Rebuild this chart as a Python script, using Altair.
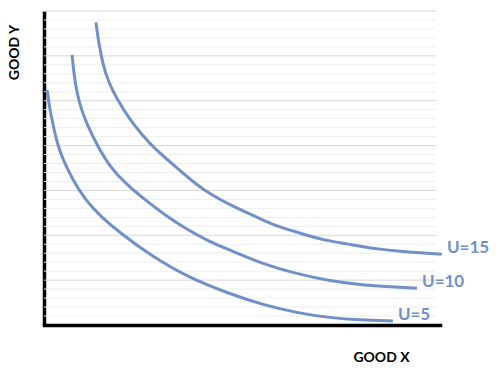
import altair as alt
import pandas as pd

# Indifference curves (x = Good X, y = Good Y)
u5_x = [0.08, 0.15, 0.23, 0.33, 0.48, 0.73, 1.04, 1.44, 1.99, 2.68, 3.61, 4.70, 5.53, 6.39, 7.22, 7.98, 8.81]
u5_y = [5.24, 4.79, 4.46, 4.06, 3.68, 3.23, 2.79, 2.41, 2.01, 1.56, 1.07, 0.69, 0.45, 0.27, 0.16, 0.11, 0.09]

u10_x = [0.71, 0.76, 0.83, 0.93, 1.09, 1.34, 1.67, 2.07, 2.65, 3.23, 3.64, 4.19, 4.70, 5.53, 6.39, 7.22, 8.06, 8.74, 9.42]
u10_y = [6.02, 5.57, 5.19, 4.84, 4.46, 4.01, 3.52, 3.14, 2.72, 2.34, 2.12, 1.85, 1.67, 1.36, 1.14, 0.98, 0.89, 0.85, 0.82]

u15_x = [1.31, 1.39, 1.49, 1.64, 1.82, 2.15, 2.53, 2.75, 3.36, 3.86, 4.27, 4.70, 5.13, 5.53, 5.96, 6.39, 6.79, 7.22, 7.65, 8.06, 8.48, 8.91, 9.49, 10.05]
u15_y = [6.75, 6.24, 5.80, 5.39, 5.08, 4.59, 4.19, 3.97, 3.50, 3.12, 2.88, 2.68, 2.50, 2.34, 2.18, 2.07, 1.96, 1.87, 1.81, 1.74, 1.69, 1.65, 1.61, 1.58]

curve_names = ["U=5", "U=10", "U=15"]
grid_values = [round(i * 0.2, 1) for i in range(1, 36)]
grid_major = [abs(v - round(v)) < 0.01 for v in grid_values]

BLUE = "#7190c8"

rows = []
for name, xs, ys in zip(curve_names, [u5_x, u10_x, u15_x], [u5_y, u10_y, u15_y]):
    for i, (a, b) in enumerate(zip(xs, ys)):
        rows.append({"curve": name, "order": i, "x": a, "y": b})
df = pd.DataFrame(rows)

labels = pd.DataFrame({
    "curve": curve_names,
    "x": [u5_x[-1], u10_x[-1], u15_x[-1]],
    "y": [u5_y[-1], u10_y[-1], u15_y[-1]],
})

grid_df = pd.DataFrame({"y": grid_values, "major": grid_major, "x0": 0.0, "x1": 9.9})

xscale = alt.Scale(domain=[0, 10], nice=False, zero=False)
yscale = alt.Scale(domain=[0, 7], nice=False, zero=False)

x_axis = alt.Axis(title="GOOD X", labels=False, ticks=False, grid=False,
                  domainColor="black", domainWidth=3.5, domainCap="square",
                  titleX=337, titleY=32, titleBaseline="middle",
                  titleFont="Lato", titleFontSize=14, titleFontWeight="bold",
                  titleColor="black")
y_axis = alt.Axis(title="GOOD Y", labels=False, ticks=False, grid=False,
                  domainColor="black", domainWidth=3.5,
                  titleX=-30, titleY=41, titleAngle=-90, titleBaseline="middle",
                  titleAlign="center",
                  titleFont="Lato", titleFontSize=14, titleFontWeight="bold",
                  titleColor="black")

grid = alt.Chart(grid_df).mark_rule(strokeWidth=1).encode(
    x=alt.X("x0:Q", scale=xscale, axis=x_axis),
    x2="x1:Q",
    y=alt.Y("y:Q", scale=yscale, axis=y_axis),
    color=alt.condition("datum.major", alt.value("#d6d6d6"), alt.value("#eeeeee")),
)

lines = alt.Chart(df).mark_line(strokeWidth=3, interpolate="basis", color=BLUE, clip=False).encode(
    x=alt.X("x:Q", scale=xscale, axis=x_axis),
    y=alt.Y("y:Q", scale=yscale, axis=y_axis),
    detail="curve:N", order="order:Q"
)

texts = alt.Chart(labels).mark_text(align="left", baseline="middle", dx=5, dy=-6,
                                    font="Lato", fontSize=17, fontWeight="bold",
                                    color=BLUE).encode(
    x=alt.X("x:Q", scale=xscale, axis=x_axis),
    y=alt.Y("y:Q", scale=yscale, axis=y_axis),
    text="curve:N"
)

chart = alt.layer(grid, lines, texts).properties(
    width=396, height=314,
    autosize=alt.AutoSizeParams(type="none"),
    padding={"left": 44, "top": 11, "right": 60, "bottom": 51},
    background="white",
).configure_view(stroke=None)

chart.save("out.html", embed_options={"renderer": "svg", "actions": False})
